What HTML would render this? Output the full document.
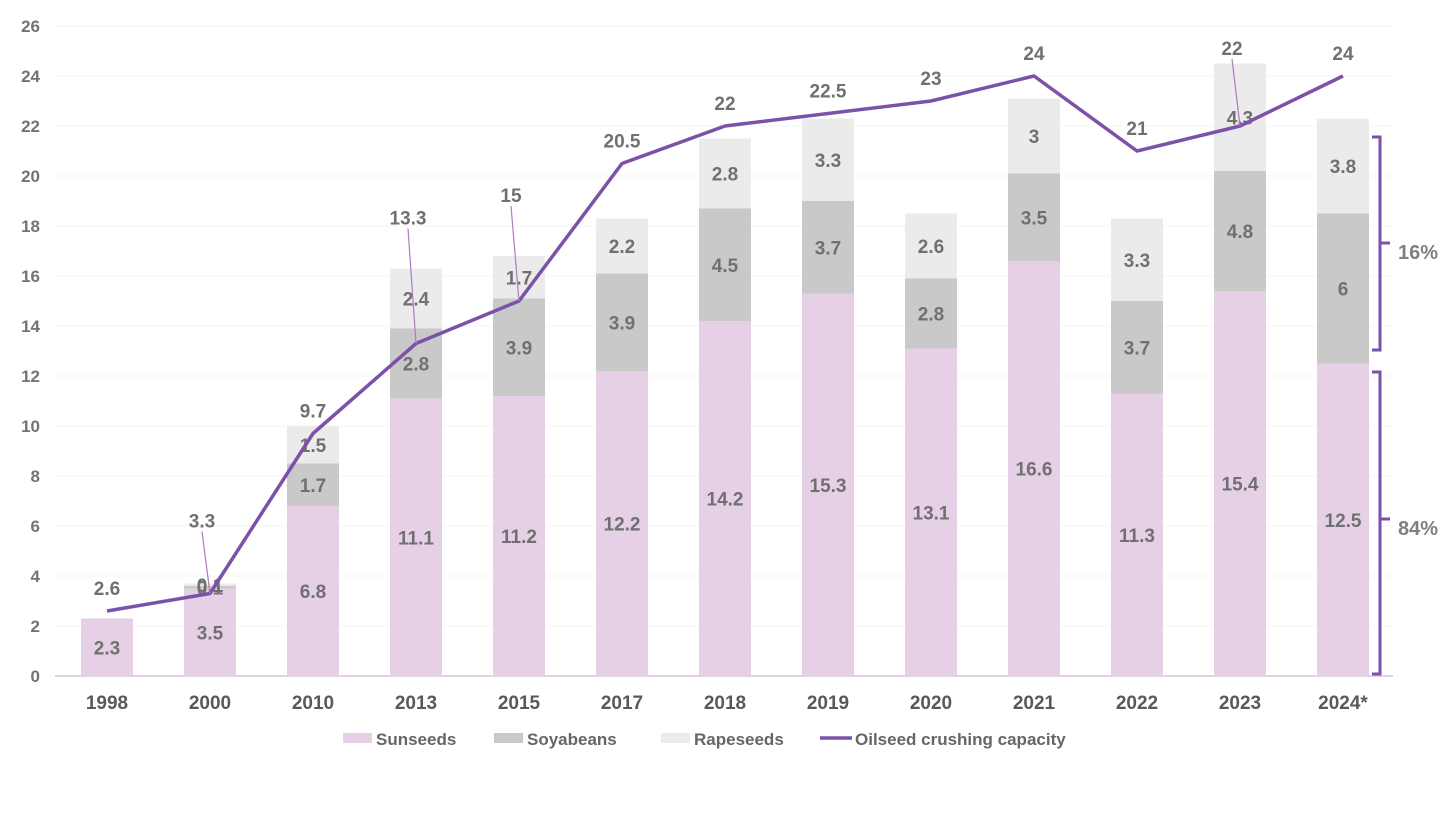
<!DOCTYPE html>
<html><head><meta charset="utf-8"><style>
body{margin:0;background:#fff;width:1448px;height:832px;overflow:hidden;font-family:"Liberation Sans",Arial,sans-serif}
text{font-family:"Liberation Sans",Arial,sans-serif;font-weight:bold}
</style></head><body>
<svg id="chart" width="1448" height="832" xmlns="http://www.w3.org/2000/svg"></svg>
<script>
const categories=["1998","2000","2010","2013","2015","2017","2018","2019","2020","2021","2022","2023","2024*"];
const sunseeds=[2.3,3.5,6.8,11.1,11.2,12.2,14.2,15.3,13.1,16.6,11.3,15.4,12.5];
const soyabeans=[0,0.1,1.7,2.8,3.9,3.9,4.5,3.7,2.8,3.5,3.7,4.8,6];
const rapeseeds=[0,0.1,1.5,2.4,1.7,2.2,2.8,3.3,2.6,3,3.3,4.3,3.8];
const capacity=[2.6,3.3,9.7,13.3,15,20.5,22,22.5,23,24,21,22,24];
const yTicks=[0,2,4,6,8,10,12,14,16,18,20,22,24,26];
const capLabelLift=[22,72,22,125,105,22,22,22,22,22,22,77,22];
const NS="http://www.w3.org/2000/svg";
const svg=document.getElementById('chart');
const x0=55,x1=1393,step=103,first=107,bw=52;
const y=v=>676-v*25;
const xc=i=>first+i*step;
function el(t,a,p){const e=document.createElementNS(NS,t);for(const k in a)e.setAttribute(k,a[k]);(p||svg).appendChild(e);return e;}
function txt(s,a){const e=el('text',a);e.textContent=s;return e;}
yTicks.forEach(v=>{
 const g=el('line',{x1:x0,x2:x1,y1:y(v),y2:y(v),stroke:v===0?'#d9c3dc':'#f5f5f5','stroke-width':v===0?1.5:1});
 
 const t=txt(v,{x:40,y:y(v)+6,'text-anchor':'end','font-size':17,fill:'#737373'});
 
});
categories.forEach((c,i)=>{
 const cx=xc(i);
 const segs=[[sunseeds[i],'#e6d0e6','sunseeds'],[soyabeans[i],'#c9c9c9','soyabeans'],[rapeseeds[i],'#ebebeb','rapeseeds']];
 let base=0;
 segs.forEach(([v,col,n])=>{
  if(v>0){
   const r=el('rect',{x:cx-bw/2,y:y(base+v),width:bw,height:v*25,fill:col});
   
   const t=txt(v,{x:cx,y:y(base+v/2)+7,'text-anchor':'middle','font-size':19,fill:'#707070'});
   
  }
  base+=v;
 });
 const t=txt(c,{x:cx,y:709,'text-anchor':'middle','font-size':19,fill:'#595959'});
 
});
const pts=capacity.map((v,i)=>xc(i)+','+y(v)).join(' ');
const pl=el('polyline',{points:pts,fill:'none',stroke:'#7b52a8','stroke-width':3.5,'stroke-linejoin':'round'});

capacity.forEach((v,i)=>{
 const px=xc(i),py=y(v),lift=capLabelLift[i];
 if(lift>40){const ld=el('line',{x1:px-8,y1:py-lift+10,x2:px,y2:py,stroke:'#b07ac0','stroke-width':1.2});
  }
 const t=txt(v,{x:px-(lift>40?8:0),y:py-lift+6,'text-anchor':'middle','font-size':19,fill:'#707070'});
 
});
function bracket(ya,yb,ym,label,name){
 const p=el('path',{d:`M1372 ${ya} L1380 ${ya} L1380 ${yb} L1372 ${yb} M1380 ${ym} L1390 ${ym}`,fill:'none',stroke:'#7b52a8','stroke-width':3});
 
 const t=txt(label,{x:1398,y:ym+16,'font-size':20,fill:'#808080'});
 
}
bracket(137,350,243,'16%','imported');
bracket(372,674,519,'84%','sunseed');
const legend=[['Sunseeds','#e6d0e6',343],['Soyabeans','#c9c9c9',494],['Rapeseeds','#ebebeb',661]];
legend.forEach(([n,c,lx])=>{
 const r=el('rect',{x:lx,y:733,width:29,height:10,fill:c});
 
 const t=txt(n,{x:lx+33,y:745,'font-size':17,fill:'#666'});
 
});
const ll=el('line',{x1:820,x2:852,y1:738,y2:738,stroke:'#7b52a8','stroke-width':3.5});

const lt=txt('Oilseed crushing capacity',{x:855,y:745,'font-size':17,fill:'#666'});

</script>
</body></html>
